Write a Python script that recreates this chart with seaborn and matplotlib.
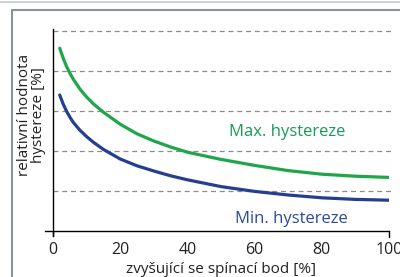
import numpy as np
import pandas as pd
import matplotlib.pyplot as plt
import seaborn as sns
from matplotlib.lines import Line2D

sns.set_theme(style="white")
plt.rcParams['font.family'] = ['Open Sans', 'DejaVu Sans']

# Data
x_vals = [2, 3, 4, 5, 6, 8, 10, 12, 15, 20, 25, 30, 35, 40, 50, 60, 70, 80, 90, 100]
max_hyst = [4.57, 4.33, 4.12, 3.95, 3.80, 3.55, 3.35, 3.18, 2.97, 2.67, 2.43, 2.25, 2.10, 1.97,
            1.79, 1.64, 1.51, 1.42, 1.37, 1.34]
min_hyst = [3.40, 3.18, 3.00, 2.85, 2.72, 2.52, 2.36, 2.22, 2.04, 1.80, 1.63, 1.50, 1.38, 1.28,
            1.11, 0.99, 0.90, 0.83, 0.79, 0.77]
x_ticks = [0, 20, 40, 60, 80, 100]
grid_levels = [1, 2, 3, 4, 5]

green = "#1fa64a"
blue = "#243f8f"

df = pd.DataFrame({"x": x_vals, "max": max_hyst, "min": min_hyst})

fig = plt.figure(figsize=(4.0, 2.77), dpi=100)
ax = fig.add_axes([53 / 400, 1 - 231 / 277, 336 / 400, 202 / 277])

for g in grid_levels:
    ax.axhline(g, xmin=0, xmax=1.01, color="#8c8c8c", lw=0.9, ls=(0, (4, 3)), zorder=1, clip_on=False)

sns.lineplot(data=df, x="x", y="max", color=green, lw=2.3, ax=ax, zorder=3)
sns.lineplot(data=df, x="x", y="min", color=blue, lw=2.3, ax=ax, zorder=3)

ax.text(69.6, 2.48, "Max. hystereze", color="#1a9a55", fontsize=12, ha="center", va="center")
ax.text(70.8, 0.30, "Min. hystereze", color="#2b4a9a", fontsize=12, ha="center", va="center")

ax.set_xlim(0, 100)
ax.set_ylim(0, 5.05)
ax.set_xticks(x_ticks)
ax.set_xticklabels([str(t) for t in x_ticks], fontsize=11.5, color="#222222")
ax.set_yticks([])
ax.tick_params(axis="x", length=0, pad=8)

for s in ["top", "right"]:
    ax.spines[s].set_visible(False)
ax.spines["left"].set_color("black")
ax.spines["bottom"].set_color("black")
ax.spines["left"].set_linewidth(1.0)
ax.spines["bottom"].set_linewidth(1.0)
ax.spines["bottom"].set_bounds(-2.4, 100)
ax.spines["left"].set_bounds(-0.12, 5.05)

# end ticks at 0 and 100
ax.plot([0, 0], [0, -0.13], color="black", lw=1.0, clip_on=False)
ax.plot([100, 100], [0, -0.15], color="black", lw=1.0, clip_on=False)

ax.set_xlabel("zvyšující se spínací bod [%]", fontsize=11, color="#222222")
ax.set_ylabel("relativní hodnota\nhystereze [%]", fontsize=11, color="#222222",
              linespacing=0.95)
ax.xaxis.set_label_coords(0.5, -0.152)
ax.yaxis.set_label_coords(-0.02, 0.575)

# outer frame
fig.add_artist(Line2D([0, 1], [1 - 1.5 / 277, 1 - 1.5 / 277], transform=fig.transFigure,
                      color="#c5ccd3", lw=1.2))
fig.add_artist(Line2D([11.5 / 400, 11.5 / 400, 1], [0, 1 - 9.5 / 277, 1 - 9.5 / 277],
                      transform=fig.transFigure, color="#8a939c", lw=1.5))

fig.savefig("out.png", dpi=100)
